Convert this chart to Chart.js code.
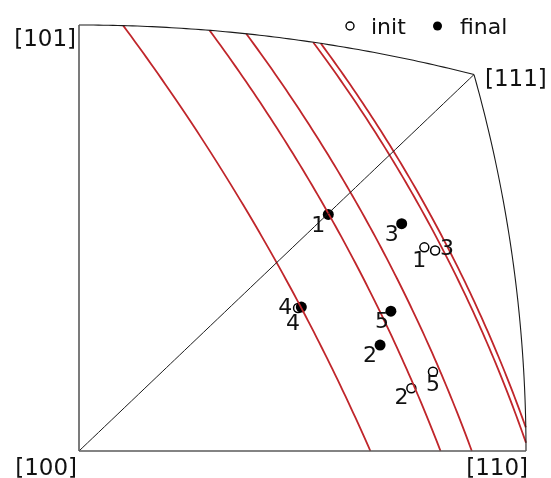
<!DOCTYPE html>
<html>
<head>
<meta charset="utf-8">
<script src="https://cdn.jsdelivr.net/npm/chart.js@4/dist/chart.umd.min.js"></script>
<style>
  html, body { margin: 0; padding: 0; background: #ffffff; }
  #wrap { width: 551px; height: 478px; }
</style>
</head>
<body>
<div id="wrap"><canvas id="ipf" width="551" height="478"></canvas></div>
<script>
// Stereographic coordinates (projection centred on [100]): u along [010], v along [001].
const grainIds = ['1', '2', '3', '4', '5'];
const initU  = [0.320, 0.308, 0.330, 0.203, 0.328];
const initV  = [0.198, 0.061, 0.195, 0.139, 0.077];
const finalU = [0.231, 0.279, 0.299, 0.206, 0.289];
const finalV = [0.230, 0.103, 0.221, 0.140, 0.136];

// Plane traces: where each one enters and leaves the triangle.
const traceStartU = [0.041, 0.121, 0.155, 0.217, 0.224];
const traceStartV = [0.4136, 0.4090, 0.4057, 0.3975, 0.3964];
const traceEndU   = [0.270, 0.335, 0.364, 0.4142, 0.4140];
const traceEndV   = [0.000, 0.000, 0.000, 0.008, 0.023];

// Corner directions of the fundamental region.
const cornerNames = ['[100]', '[110]', '[111]', '[101]'];
const cornerDirs  = [[1, 0, 0], [1, 1, 0], [1, 1, 1], [1, 0, 1]];
const seriesNames = ['init', 'final'];

// Label placement around each marker (px), per series.
const initLabelOffsets  = [[-5, 14], [-10, 10], [12, -1], [-5, 16], [0, 13]];
const finalLabelOffsets = [[-10, 12], [-10, 11], [-10, 12], [-16, 1], [-9, 11]];

const R_MAX = Math.SQRT2 - 1;   // projected radius of [110] / [101]
const TRACE_RED = '#c0262b';

function norm(a) {
  const l = Math.hypot(a[0], a[1], a[2]);
  return [a[0] / l, a[1] / l, a[2] / l];
}
function fromProjected(u, v) {
  const r2 = u * u + v * v;
  return [(1 - r2) / (1 + r2), 2 * u / (1 + r2), 2 * v / (1 + r2)];
}
function toProjected(p) {
  return { x: p[1] / (1 + p[0]), y: p[2] / (1 + p[0]) };
}
// Points along the great circle joining two unit directions.
function greatCircle(a, b, n) {
  a = norm(a); b = norm(b);
  const dot = Math.min(1, Math.max(-1, a[0] * b[0] + a[1] * b[1] + a[2] * b[2]));
  const th = Math.acos(dot);
  const pts = [];
  for (let i = 0; i <= n; i++) {
    const t = i / n;
    const s = Math.sin(th);
    const ka = Math.sin((1 - t) * th) / s, kb = Math.sin(t * th) / s;
    pts.push(toProjected([ka * a[0] + kb * b[0], ka * a[1] + kb * b[1], ka * a[2] + kb * b[2]]));
  }
  return pts;
}

// a small tension keeps Chart.js on the smooth path renderer for near-vertical arcs
const lineBase = { showLine: true, pointRadius: 0, pointHoverRadius: 0, fill: false, tension: 0.2, clip: false };

const frameSets = [
  { ...lineBase, data: [{ x: 0, y: 0 }, { x: R_MAX, y: 0 }], borderColor: '#5a5a5a', borderWidth: 1.6 },
  { ...lineBase, data: [{ x: 0, y: 0 }, { x: 0, y: R_MAX }], borderColor: '#5a5a5a', borderWidth: 1.6 },
  { ...lineBase, data: greatCircle(cornerDirs[3], cornerDirs[2], 40), borderColor: '#1a1a1a', borderWidth: 1.1 },
  { ...lineBase, data: greatCircle(cornerDirs[1], cornerDirs[2], 40), borderColor: '#1a1a1a', borderWidth: 1.1 },
  { ...lineBase, data: greatCircle(cornerDirs[0], cornerDirs[2], 4), borderColor: '#1a1a1a', borderWidth: 1 }
];

const traceSets = traceStartU.map((u, i) => ({
  ...lineBase,
  data: greatCircle(fromProjected(u, traceStartV[i]), fromProjected(traceEndU[i], traceEndV[i]), 40),
  borderColor: TRACE_RED,
  borderWidth: 1.8
}));

const initSet = {
  label: seriesNames[0],
  data: initU.map((u, i) => ({ x: u, y: initV[i] })),
  pointStyle: 'circle', pointRadius: 4.5, pointHoverRadius: 4.5,
  pointBorderWidth: 1.5, borderColor: '#000', backgroundColor: 'rgba(255,255,255,0)', clip: false
};
const finalSet = {
  label: seriesNames[1],
  data: finalU.map((u, i) => ({ x: u, y: finalV[i] })),
  pointStyle: 'circle', pointRadius: 5.5, pointHoverRadius: 5.5,
  pointBorderWidth: 0, borderColor: '#000', backgroundColor: '#000', clip: false
};

const annotate = {
  id: 'annotate',
  afterDatasetsDraw(chart) {
    const { ctx, scales: { x, y } } = chart;
    const n = chart.data.datasets.length;
    ctx.save();
    ctx.fillStyle = '#111';
    ctx.font = '22px "DejaVu Sans", sans-serif';
    ctx.textAlign = 'center';
    ctx.textBaseline = 'middle';
    const sets = [[n - 2, initLabelOffsets], [n - 1, finalLabelOffsets]];
    sets.forEach(([di, offs]) => {
      chart.getDatasetMeta(di).data.forEach((el, i) => {
        ctx.fillText(grainIds[i], el.x + offs[i][0], el.y + offs[i][1]);
      });
    });

    // corner directions
    ctx.font = '23px "DejaVu Sans", sans-serif';
    ctx.textBaseline = 'alphabetic';
    const c = cornerDirs.map(d => toProjected(norm(d)));
    const px = c.map(p => [x.getPixelForValue(p.x), y.getPixelForValue(p.y)]);
    ctx.textAlign = 'right';
    ctx.fillText(cornerNames[0], px[0][0] - 2, px[0][1] + 24);
    ctx.fillText(cornerNames[1], px[1][0] + 2, px[1][1] + 24);
    ctx.fillText(cornerNames[3], px[3][0] - 3, px[3][1] + 21);
    ctx.textAlign = 'left';
    ctx.fillText(cornerNames[2], px[2][0] + 11, px[2][1] + 11);

    // legend
    const ly = 26;
    ctx.font = '22px "DejaVu Sans", sans-serif';
    ctx.strokeStyle = '#000';
    ctx.lineWidth = 1.4;
    ctx.beginPath(); ctx.arc(350, ly, 4, 0, Math.PI * 2); ctx.stroke();
    ctx.fillStyle = '#000';
    ctx.beginPath(); ctx.arc(437.5, ly, 4.5, 0, Math.PI * 2); ctx.fill();
    ctx.fillStyle = '#111';
    ctx.fillText(seriesNames[0], 371, ly + 8);
    ctx.fillText(seriesNames[1], 460, ly + 8);
    ctx.restore();
  }
};

new Chart(document.getElementById('ipf'), {
  type: 'scatter',
  data: { datasets: [...frameSets, ...traceSets, initSet, finalSet] },
  options: {
    responsive: false,
    animation: false,
    events: [],
    layout: { padding: { left: 79, right: 25, top: 25, bottom: 27 } },
    scales: {
      x: { type: 'linear', min: 0, max: R_MAX, display: false },
      y: { type: 'linear', min: 0, max: R_MAX, display: false }
    },
    plugins: { legend: { display: false }, tooltip: { enabled: false } }
  },
  plugins: [annotate]
});
</script>
</body>
</html>
